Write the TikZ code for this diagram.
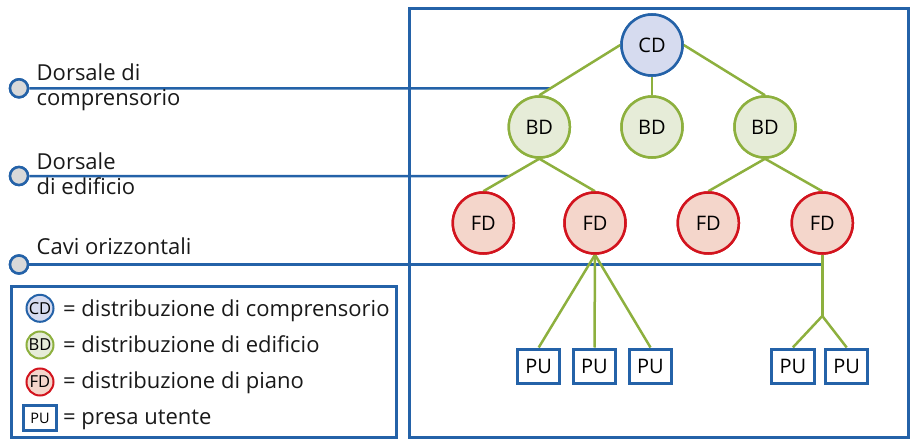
\documentclass[tikz,border=0pt]{standalone}
\usepackage{fontspec}
\setmainfont{Open Sans}
\definecolor{fblue}{HTML}{2462A8}
\definecolor{lgreen}{HTML}{8DB03E}
\definecolor{cdfill}{HTML}{D6DBEF}
\definecolor{bdfill}{HTML}{E6ECD8}
\definecolor{fdfill}{HTML}{F4D6CB}
\definecolor{fdred}{HTML}{D2141E}
\definecolor{dotgray}{HTML}{D9D9D9}
\begin{document}
\begin{tikzpicture}[x=1pt,y=-1pt,
  circ/.style={circle, line width=2.5pt, minimum size=61pt, inner sep=0pt, font=\fontsize{20}{24}\selectfont},
  cdnode/.style={circ, draw=fblue, fill=cdfill},
  bdnode/.style={circ, draw=lgreen, fill=bdfill},
  fdnode/.style={circ, draw=fdred, fill=fdfill},
  punode/.style={rectangle, draw=fblue, fill=white, line width=3pt, minimum width=42.5pt, minimum height=34pt, inner sep=0pt, font=\fontsize{20}{24}\selectfont},
  lcirc/.style={circle, line width=2pt, minimum size=27pt, inner sep=0pt, font=\fontsize{16.5}{18}\selectfont},
  lpu/.style={rectangle, draw=fblue, fill=white, line width=3pt, minimum width=33pt, minimum height=25pt, inner sep=0pt, font=\fontsize{14.5}{17}\selectfont},
  dot/.style={circle, draw=fblue, fill=dotgray, line width=2.5pt, minimum size=18pt, inner sep=0pt},
  lbl/.style={anchor=base west, inner sep=0pt, font=\fontsize{22}{26}\selectfont, text=black!90},
  blueline/.style={draw=fblue, line width=2.5pt},
  greenline/.style={draw=lgreen, line width=2.5pt},
  frame/.style={draw=fblue, line width=3pt}
]
\useasboundingbox (0,0) rectangle (914,444);

% frames
\draw[frame] (409.5,8.5) rectangle (908,437);
\draw[frame, line width=2.5pt] (11.5,286.5) rectangle (396.5,437.5);

% tree nodes
\node[cdnode] (CD) at (652,45) {CD};
\node[bdnode] (BD1) at (539.3,127) {BD};
\node[bdnode] (BD2) at (652,127) {BD};
\node[bdnode] (BD3) at (765,127) {BD};
\node[fdnode] (FD1) at (483.3,223) {FD};
\node[fdnode] (FD2) at (595,223) {FD};
\node[fdnode] (FD3) at (708.3,223) {FD};
\node[fdnode] (FD4) at (822.3,223) {FD};
\node[punode] (PU1) at (538.7,366) {PU};
\node[punode] (PU2) at (594.5,366) {PU};
\node[punode] (PU3) at (650.5,366) {PU};
\node[punode] (PU4) at (792.8,366) {PU};
\node[punode] (PU5) at (846.7,366) {PU};
\coordinate (J) at (822.3,316);

% left dots
\node[dot] (D1) at (19,88.3) {};
\node[dot] (D2) at (19,176) {};
\node[dot] (D3) at (19,264.5) {};
\coordinate (H1) at (700,88.3);
\coordinate (H2) at (700,176);

% blue lines
\draw[blueline] (D1.east) -- (intersection of D1--H1 and CD.west--BD1.north);
\draw[blueline] (D2.east) -- (intersection of D2--H2 and BD1.south--FD1.north);
\draw[blueline] (D3.east) -- (D3 -| FD4.south);

% green connectors
\draw[greenline] (CD.west) -- (BD1.north);
\draw[greenline] (CD.south) -- (BD2.north);
\draw[greenline] (CD.east) -- (BD3.north);
\draw[greenline] (BD1.south) -- (FD1.north);
\draw[greenline] (BD1.south) -- (FD2.north);
\draw[greenline] (BD3.south) -- (FD3.north);
\draw[greenline] (BD3.south) -- (FD4.north);
\draw[greenline] (FD2.south) -- (PU1.north);
\draw[greenline] (FD2.south) -- (PU2.north);
\draw[greenline] (FD2.south) -- (PU3.north);
\draw[greenline] (FD4.south) -- (J);
\draw[greenline] (J) -- (PU4.north);
\draw[greenline] (J) -- (PU5.north);

% redraw nodes on top
\foreach \n in {CD}{\node[cdnode] at (\n) {CD};}
\foreach \n in {BD1,BD2,BD3}{\node[bdnode] at (\n) {BD};}
\foreach \n in {FD1,FD2,FD3,FD4}{\node[fdnode] at (\n) {FD};}
\foreach \n in {PU1,PU2,PU3,PU4,PU5}{\node[punode] at (\n) {PU};}
\node[dot] at (D1) {};
\node[dot] at (D2) {};
\node[dot] at (D3) {};

% left labels
\node[lbl] (T1a) at (36.5,80.7) {Dorsale di};
\node[lbl] (T1b) at (36.5,105.3) {comprensorio};
\node[lbl] (T2a) at (36.5,169.3) {Dorsale};
\node[lbl] (T2b) at (36.5,194.5) {di edificio};
\node[lbl] (T3a) at (36.5,254) {Cavi orizzontali};

% legend
\node[lcirc, draw=fblue, fill=cdfill] (LCD) at (40,308.3) {CD};
\node[lcirc, draw=lgreen, fill=bdfill] (LBD) at (40,345) {BD};
\node[lcirc, draw=fdred, fill=fdfill] (LFD) at (40,382) {FD};
\node[lpu] (LPU) at (40,418) {PU};
\node[lbl] (LT1) at (63,316.7) {= distribuzione di comprensorio};
\node[lbl] (LT2) at (63,352.7) {= distribuzione di edificio};
\node[lbl] (LT3) at (63,388.3) {= distribuzione di piano};
\node[lbl] (LT4) at (63,424) {= presa utente};
\end{tikzpicture}
\end{document}
